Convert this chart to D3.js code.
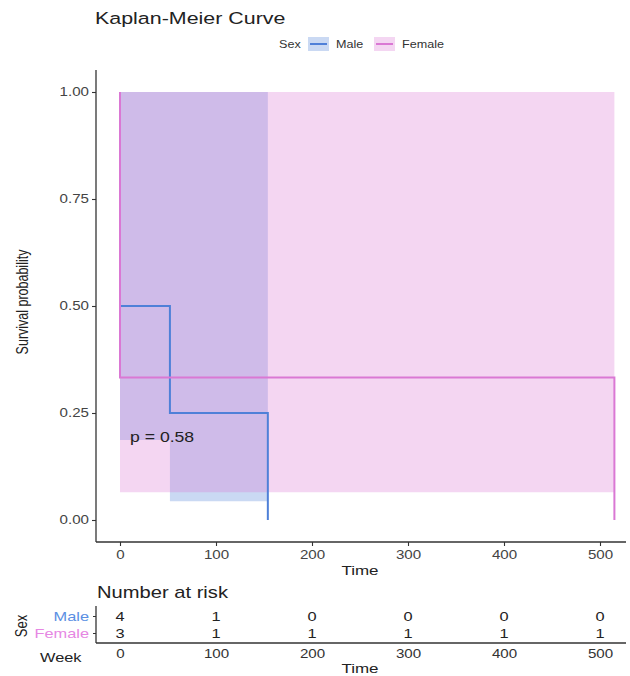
<!DOCTYPE html>
<html>
<head>
<meta charset="utf-8">
<script src="https://cdn.jsdelivr.net/npm/d3@7"></script>
<style>
  body { margin: 0; background: #fff; }
  svg { font-family: "Liberation Sans", Arial, sans-serif; }
</style>
</head>
<body>
<div id="chart"></div>
<script>
// survival steps
var maleTime = [0, 0, 52, 154];
var maleSurv = [1, 0.5, 0.25, 0];
var femaleTime = [0, 0, 515];
var femaleSurv = [1, 0.333, 0];

// confidence bands (time, lower, upper)
var maleBandTime = [0, 52, 154];
var maleLower = [0.187, 0.044, 0.044];
var maleUpper = [1, 1, 1];
var femaleBandTime = [0, 515];
var femaleLower = [0.065, 0.065];
var femaleUpper = [1, 1];

var yTicks = [0, 0.25, 0.5, 0.75, 1];
var xTicks = [0, 100, 200, 300, 400, 500];
var riskGroups = ["Male", "Female"];
var riskMale = [4, 1, 0, 0, 0, 0];
var riskFemale = [3, 1, 1, 1, 1, 1];

var maleColor = "#4f80d8";
var femaleColor = "#da78d4";
var S = 1.26; // the original picture is a bit stretched sideways

var svg = d3.select("#chart").append("svg")
  .attr("width", 630).attr("height", 676);

var x = d3.scaleLinear().domain([0, 500]).range([120, 600]);
var y = d3.scaleLinear().domain([0, 1]).range([520, 92]);

// put a text at (px,py), widened by S
function label(px, py, size, txt, anchor, fill) {
  return svg.append("text")
    .attr("transform", "translate(" + px + "," + py + ") scale(" + S + ",1)")
    .attr("text-anchor", anchor || "start")
    .attr("font-size", size).attr("fill", fill || "#222").text(txt);
}

// title + legend
label(95, 24, 17, "Kaplan-Meier Curve");

label(279, 48, 10, "Sex", "start", "#333");
[[308, maleColor, "Male"], [374, femaleColor, "Female"]].forEach(function (d) {
  svg.append("rect").attr("x", d[0]).attr("y", 37).attr("width", 21).attr("height", 14)
    .attr("fill", d[1]).attr("fill-opacity", 0.3);
  svg.append("line").attr("x1", d[0] + 2).attr("x2", d[0] + 19).attr("y1", 44).attr("y2", 44)
    .attr("stroke", d[1]).attr("stroke-width", 2);
  label(d[0] + 28, 48, 10, d[2], "start", "#333");
});

// bands
var area = d3.area().curve(d3.curveStepAfter)
  .x(function (d) { return x(d[0]); })
  .y0(function (d) { return y(d[1]); })
  .y1(function (d) { return y(d[2]); });

svg.append("path")
  .attr("d", area(maleBandTime.map(function (t, i) { return [t, maleLower[i], maleUpper[i]]; })))
  .attr("fill", maleColor).attr("fill-opacity", 0.3);
svg.append("path")
  .attr("d", area(femaleBandTime.map(function (t, i) { return [t, femaleLower[i], femaleUpper[i]]; })))
  .attr("fill", femaleColor).attr("fill-opacity", 0.3);

// curves
var line = d3.line().curve(d3.curveStepAfter)
  .x(function (d) { return x(d[0]); })
  .y(function (d) { return y(d[1]); });

svg.append("path")
  .attr("d", line(maleTime.map(function (t, i) { return [t, maleSurv[i]]; })))
  .attr("fill", "none").attr("stroke", maleColor).attr("stroke-width", 2);
svg.append("path")
  .attr("d", line(femaleTime.map(function (t, i) { return [t, femaleSurv[i]]; })))
  .attr("fill", "none").attr("stroke", femaleColor).attr("stroke-width", 2);

label(130, 442, 14, "p = 0.58");

// axes
var yAxis = svg.append("g").attr("transform", "translate(96,0)")
  .call(d3.axisLeft(y).tickValues(yTicks).tickFormat(d3.format(".2f")).tickSize(4).tickPadding(3));
var xAxis = svg.append("g").attr("transform", "translate(0,542)")
  .call(d3.axisBottom(x).tickValues(xTicks).tickSize(4).tickPadding(4));

yAxis.select(".domain").attr("d", "M0,70V542");
xAxis.select(".domain").attr("d", "M96,0H626");
[yAxis, xAxis].forEach(function (a) {
  a.select(".domain").attr("stroke", "#333").attr("stroke-width", 1.3);
  a.selectAll(".tick line").attr("stroke", "#333").attr("stroke-width", 1.1);
  a.selectAll(".tick text").attr("font-size", 12).attr("fill", "#444")
    .attr("font-family", "Liberation Sans, Arial, sans-serif");
});
yAxis.selectAll(".tick text").attr("x", -7 / S).attr("transform", "scale(" + S + ",1)");
xAxis.selectAll(".tick text").attr("transform", "scale(" + S + ",1)");

svg.append("text").attr("transform", "translate(28,302) scale(" + S + ",1) rotate(-90)")
  .attr("text-anchor", "middle").attr("font-size", 12.5).attr("fill", "#222")
  .text("Survival probability");
label(360, 575, 13.5, "Time", "middle");

// risk table
label(97, 598, 16, "Number at risk");

var rowY = d3.scalePoint().domain(riskGroups).range([616, 633]);
var tAxis = svg.append("g").attr("transform", "translate(96,0)")
  .call(d3.axisLeft(rowY).tickSize(3).tickPadding(3));
tAxis.select(".domain").attr("d", "M0,606V643").attr("stroke", "#333").attr("stroke-width", 1.3);
tAxis.selectAll(".tick line").attr("stroke", "#333");
tAxis.selectAll(".tick text").attr("font-size", 13)
  .attr("font-family", "Liberation Sans, Arial, sans-serif")
  .attr("x", -7 / S).attr("transform", "scale(" + S + ",1)")
  .attr("fill", function (d) { return d === "Male" ? "#5b8fe3" : "#e687e3"; });

var bAxis = svg.append("g").attr("transform", "translate(0,643)")
  .call(d3.axisBottom(x).tickValues(xTicks).tickSize(0).tickPadding(6));
bAxis.select(".domain").attr("d", "M96,0H626").attr("stroke", "#333").attr("stroke-width", 1.3);
bAxis.selectAll(".tick text").attr("font-size", 12).attr("fill", "#333")
  .attr("font-family", "Liberation Sans, Arial, sans-serif")
  .attr("transform", "scale(" + S + ",1)");

[riskMale, riskFemale].forEach(function (vals, r) {
  svg.selectAll(null).data(vals).enter().append("text")
    .attr("transform", function (d, i) {
      return "translate(" + x(xTicks[i]) + "," + (rowY(riskGroups[r]) + 5) + ") scale(" + S + ",1)";
    })
    .attr("text-anchor", "middle").attr("font-size", 13).attr("fill", "#222")
    .text(function (d) { return d; });
});

svg.append("text").attr("transform", "translate(27,626) scale(" + S + ",1) rotate(-90)")
  .attr("text-anchor", "middle").attr("font-size", 13).attr("fill", "#222").text("Sex");
label(40, 662, 13, "Week");
label(360, 673, 13.5, "Time", "middle");
</script>
</body>
</html>
